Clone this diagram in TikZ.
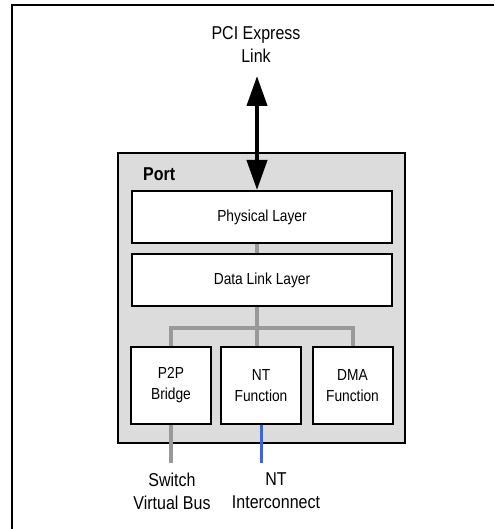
\documentclass[tikz,border=0pt]{standalone}
\usepackage{fontspec}
\setmainfont{Liberation Sans}[FakeStretch=0.86]
\usetikzlibrary{arrows.meta}
\definecolor{portfill}{HTML}{DCDCDC}
\definecolor{busgray}{HTML}{999999}
\definecolor{ntblue}{HTML}{3366EE}
\begin{document}
\begin{tikzpicture}[x=1pt,y=-1pt,
  layerbox/.style={draw=black,line width=2pt,fill=white,minimum width=260pt,minimum height=52pt,inner sep=0pt,font=\fontsize{16}{21}\selectfont,align=center},
  funcbox/.style={draw=black,line width=2pt,fill=white,minimum width=80pt,minimum height=77pt,inner sep=0pt,font=\fontsize{16}{21}\selectfont,align=center},
  biglabel/.style={font=\fontsize{18.6}{23}\selectfont,align=center,inner sep=0pt},
  bus/.style={draw=busgray,line width=4pt},
  ntline/.style={draw=ntblue,line width=3pt}]
\useasboundingbox (0,0) rectangle (493,529);
% outer frame (cropped on right and bottom)
\draw[line width=2pt] (12,540) -- (12,5) -- (510,5);
% port
\node[draw=black,line width=2pt,fill=portfill,minimum width=287pt,minimum height=290pt,inner sep=0pt] (port) at (261.5,298) {};
\node[font=\bfseries\fontsize{18.6}{22}\selectfont,anchor=base west,inner sep=0pt] (portlbl) at (143,181) {Port};
% layers
\node[layerbox] (phy) at (262,217) {Physical Layer};
\node[layerbox] (dll) at (262,280) {Data Link Layer};
% functions
\node[funcbox] (p2p) at (171,385.5) {P2P\\Bridge};
\node[funcbox] (ntf) at (261,385.5) {NT\\Function};
\node[funcbox] (dma) at (352.5,385.5) {DMA\\Function};
% link label
\node[biglabel] (pci) at (256,45) {PCI Express\\Link};
\coordinate (linktop) at (257,76);
% bus
\coordinate (busc) at (257,328);
\draw[bus] (phy.south -| busc) -- (dll.north -| busc);
\draw[bus] (dll.south -| busc) -- (ntf.north -| busc);
\draw[bus] (p2p.north) |- (busc) -| (dma.north);
% bottom labels
\node[biglabel] (svb) at (172,491) {Switch\\Virtual Bus};
\node[biglabel] (nti) at (276,491) {NT\\Interconnect};
\coordinate (svbtop) at (171,463);
\coordinate (ntitop) at (261,463);
\draw[bus,line cap=butt] (p2p.south) -- (svbtop);
\draw[ntline] (ntf.south) -- (ntitop);
% link arrow
\draw[line width=4pt,{Triangle[length=30pt,width=20pt]}-{Triangle[length=30pt,width=20pt]}] (linktop) -- (phy.north -| linktop);
\end{tikzpicture}
\end{document}
